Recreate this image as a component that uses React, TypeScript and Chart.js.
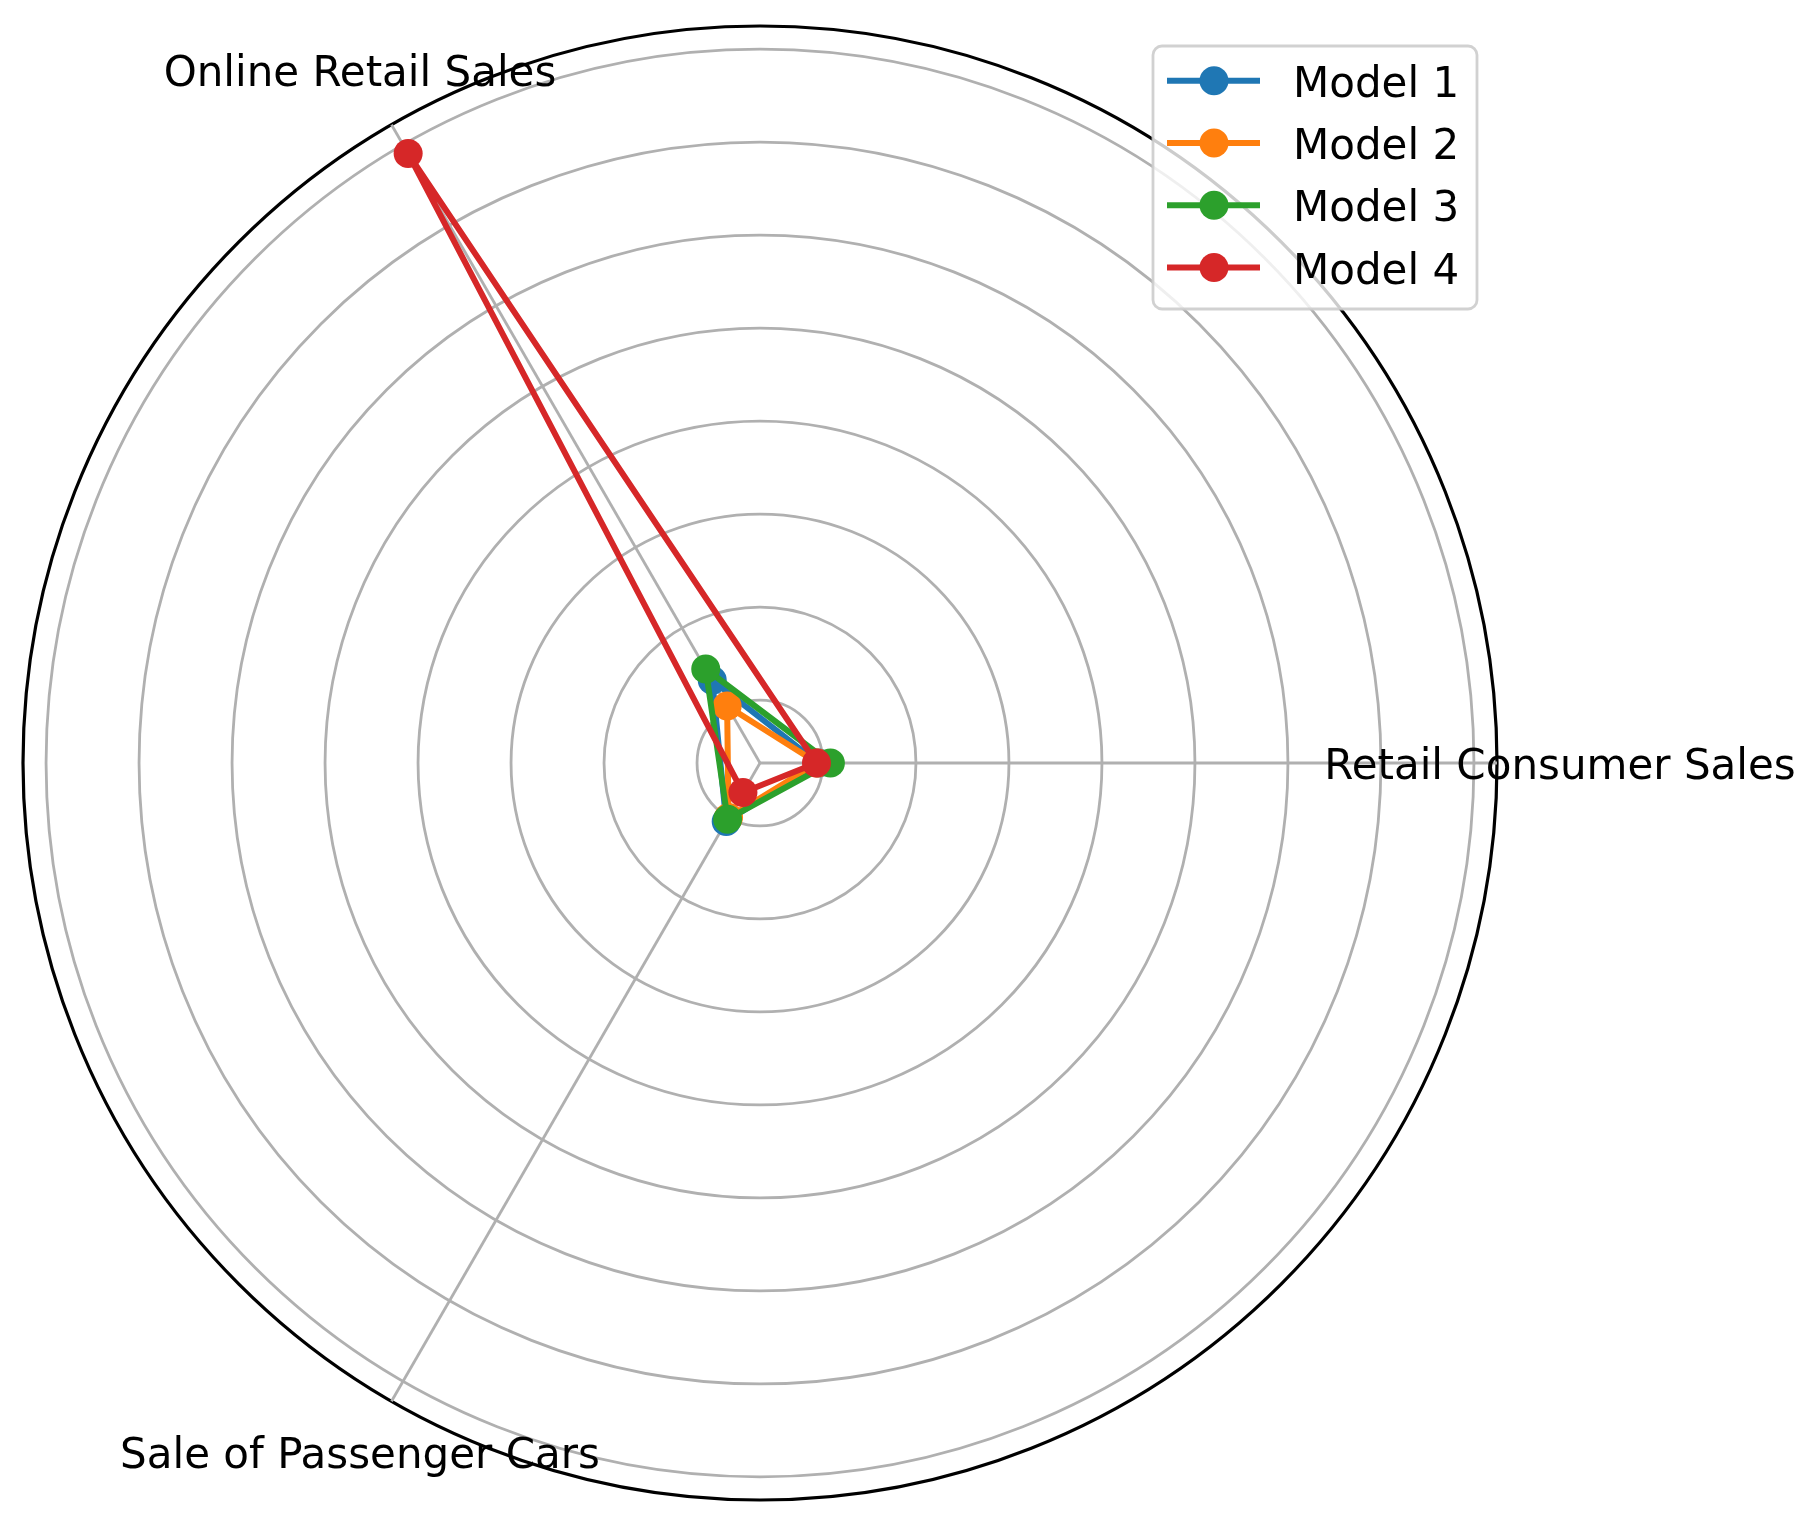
import React, { useEffect, useRef } from 'react';
import { Chart, registerables } from 'chart.js';

Chart.register(...registerables);

// ---- data (matplotlib order: counter-clockwise from the east) ----
const CATEGORIES = ['Retail Consumer Sales', 'Online Retail Sales', 'Sale of Passenger Cars'];
const SERIES_NAMES = ['Model 1', 'Model 2', 'Model 3', 'Model 4'];
const MODEL_1 = [0.95, 1.35, 1.05];
const MODEL_2 = [0.94, 1.03, 1.0];
const MODEL_3 = [1.08, 1.49, 1.02];
const MODEL_4 = [0.93, 7.89, 0.69];
const SERIES_VALUES = [MODEL_1, MODEL_2, MODEL_3, MODEL_4];
const COLORS = ['#1f77b4', '#ff7f0e', '#2ca02c', '#d62728'];

// radial axis range and rings (tick labels hidden in the reference)
const R_MIN = 0.323;
const R_MAX = 8.248;
const RING_TICKS = [1, 2, 3, 4, 5, 6, 7, 8];

// Chart.js goes clockwise, matplotlib counter-clockwise: reorder the spokes
const THETA_ORDER = [0, 2, 1];

const FONT = "'DejaVu Sans', 'Liberation Sans', sans-serif";
const GRID_COLOR = '#b0b0b0';
const LINE_WIDTH = 6;

const labelsPlugin = {
  id: 'mplLabels',
  afterDatasetsDraw(chart: any) {
    const scale = chart.scales.r;
    const ctx = chart.ctx;
    const labels: string[] = chart.data.labels;
    ctx.save();
    ctx.font = `42px ${FONT}`;
    ctx.fillStyle = '#000';
    ctx.textAlign = 'center';
    ctx.textBaseline = 'alphabetic';
    labels.forEach((lab, i) => {
      const p = scale.getPointPosition(i, scale.drawingArea + 63);
      const m = ctx.measureText(lab);
      const asc = m.actualBoundingBoxAscent;
      const desc = m.actualBoundingBoxDescent;
      ctx.fillText(lab, p.x, p.y + (asc - desc) / 2);
    });
    ctx.restore();
  },
};

const legendPlugin = {
  id: 'mplLegend',
  afterDraw(chart: any) {
    const ctx = chart.ctx;
    const x0 = 1153, y0 = 46, x1 = 1477, y1 = 309, rr = 9;
    ctx.save();
    ctx.beginPath();
    ctx.moveTo(x0 + rr, y0);
    ctx.lineTo(x1 - rr, y0);
    ctx.arcTo(x1, y0, x1, y0 + rr, rr);
    ctx.lineTo(x1, y1 - rr);
    ctx.arcTo(x1, y1, x1 - rr, y1, rr);
    ctx.lineTo(x0 + rr, y1);
    ctx.arcTo(x0, y1, x0, y1 - rr, rr);
    ctx.lineTo(x0, y0 + rr);
    ctx.arcTo(x0, y0, x0 + rr, y0, rr);
    ctx.closePath();
    ctx.fillStyle = 'rgba(255,255,255,0.8)';
    ctx.fill();
    ctx.strokeStyle = 'rgba(204,204,204,0.9)';
    ctx.lineWidth = 2.8;
    ctx.stroke();

    const rowY0 = 80.7, rowStep = 62.3;
    chart.data.datasets.forEach((ds: any, i: number) => {
      const y = rowY0 + i * rowStep;
      ctx.strokeStyle = ds.borderColor;
      ctx.lineWidth = LINE_WIDTH;
      ctx.lineCap = 'butt';
      ctx.beginPath();
      ctx.moveTo(1167, y);
      ctx.lineTo(1260, y);
      ctx.stroke();
      ctx.fillStyle = ds.borderColor;
      ctx.beginPath();
      ctx.arc(1214, y, 14.5, 0, Math.PI * 2);
      ctx.fill();
      ctx.fillStyle = '#000';
      ctx.font = `42px ${FONT}`;
      ctx.textAlign = 'left';
      ctx.textBaseline = 'alphabetic';
      const m = ctx.measureText(ds.label);
      ctx.fillText(ds.label, 1293, y + (m.actualBoundingBoxAscent - m.actualBoundingBoxDescent) / 2);
    });
    ctx.restore();
  },
};

export default function App() {
  const canvasRef = useRef<HTMLCanvasElement | null>(null);

  useEffect(() => {
    const canvas = canvasRef.current;
    if (!canvas) return;
    const labels = THETA_ORDER.map((k) => CATEGORIES[k]);
    const n = SERIES_NAMES.length;
    const datasets = SERIES_NAMES.map((name, i) => ({
      label: name,
      data: THETA_ORDER.map((k) => SERIES_VALUES[i][k]),
      borderColor: COLORS[i],
      backgroundColor: COLORS[i],
      pointBackgroundColor: COLORS[i],
      pointBorderColor: COLORS[i],
      pointBorderWidth: 0,
      pointRadius: 14.5,
      borderWidth: LINE_WIDTH,
      borderJoinStyle: 'round',
      fill: false,
      tension: 0,
      order: n - i,
    }));

    const chart = new Chart(canvas, {
      type: 'radar',
      data: { labels, datasets },
      plugins: [labelsPlugin, legendPlugin],
      options: {
        responsive: false,
        animation: false,
        devicePixelRatio: 1,
        events: [],
        layout: { padding: { left: 23, top: 26, right: 321, bottom: 24 } },
        plugins: { legend: { display: false }, tooltip: { enabled: false }, title: { display: false } },
        scales: {
          r: {
            min: R_MIN,
            max: R_MAX,
            startAngle: 90,
            beginAtZero: false,
            afterBuildTicks: (scale: any) => {
              scale.ticks = [R_MIN, ...RING_TICKS, R_MAX].map((v) => ({ value: v }));
            },
            ticks: { display: false },
            pointLabels: { display: false },
            grid: {
              circular: true,
              color: (c: any) => (c.tick && c.tick.value >= R_MAX - 1e-6 ? '#000000' : GRID_COLOR),
              lineWidth: (c: any) => (c.tick && c.tick.value >= R_MAX - 1e-6 ? 3.2 : 2.8),
            },
            angleLines: { display: true, color: GRID_COLOR, lineWidth: 2.8 },
          },
        },
      } as any,
    });
    return () => chart.destroy();
  }, []);

  return (
    <div style={{ position: 'absolute', left: 0, top: 0, width: 1818, height: 1524, background: '#fff' }}>
      <canvas ref={canvasRef} width={1818} height={1524} style={{ width: 1818, height: 1524, display: 'block' }} />
    </div>
  );
}
